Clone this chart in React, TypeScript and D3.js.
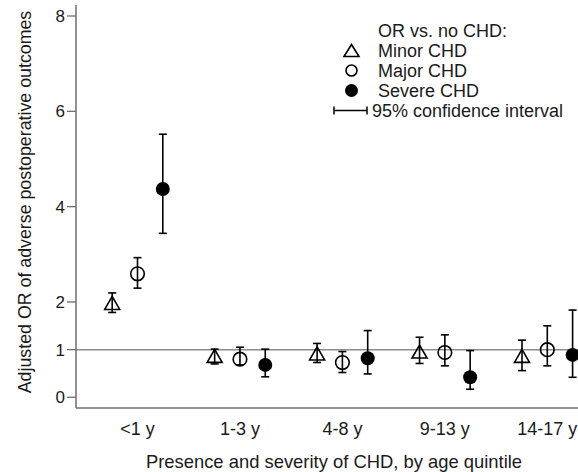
import React from 'react';
import * as d3 from 'd3';

const ageGroups = ['<1 y', '1-3 y', '4-8 y', '9-13 y', '14-17 y'];
const seriesNames = ['Minor CHD', 'Major CHD', 'Severe CHD'];

// OR, lower CI, upper CI per age group
const minorOR = [1.98, 0.87, 0.92, 0.96, 0.87];
const minorLo = [1.78, 0.7, 0.73, 0.71, 0.56];
const minorHi = [2.19, 1.01, 1.13, 1.26, 1.2];

const majorOR = [2.59, 0.8, 0.73, 0.94, 1.0];
const majorLo = [2.29, 0.68, 0.52, 0.66, 0.66];
const majorHi = [2.93, 1.05, 0.96, 1.31, 1.5];

const severeOR = [4.37, 0.68, 0.82, 0.42, 0.89];
const severeLo = [3.44, 0.43, 0.49, 0.17, 0.42];
const severeHi = [5.52, 1.01, 1.4, 0.98, 1.83];

const yTicks = [0, 1, 2, 4, 6, 8];

const W = 578;
const H = 472;
const FONT = '"Liberation Sans", Arial, sans-serif';

const App = () => {
  const x = d3.scalePoint<string>().domain(ageGroups).range([137.5, 547.3]);
  const offset = d3.scalePoint<string>().domain(seriesNames).range([-25.3, 25.3]);
  const y = d3.scaleLinear().domain([0, 8]).range([397.3, 16]);

  const left = 76;
  const bottom = 408;

  const series = [
    { name: seriesNames[0], or: minorOR, lo: minorLo, hi: minorHi, shape: 'triangle' },
    { name: seriesNames[1], or: majorOR, lo: majorLo, hi: majorHi, shape: 'circle' },
    { name: seriesNames[2], or: severeOR, lo: severeLo, hi: severeHi, shape: 'filled' },
  ];

  const marker = (shape: string, cx: number, cy: number, key: string, small = false) => {
    if (shape === 'triangle') {
      const w = 15;
      const h = small ? 12 : 13;
      const p = `M${cx},${cy - h / 2} L${cx + w / 2},${cy + h / 2} L${cx - w / 2},${cy + h / 2} Z`;
      return <path key={key} d={p} fill="none" stroke="#000" strokeWidth={1.6} />;
    }
    if (shape === 'circle') {
      return <circle key={key} cx={cx} cy={cy} r={small ? 5.5 : 6.8} fill="none" stroke="#000" strokeWidth={1.6} />;
    }
    return <circle key={key} cx={cx} cy={cy} r={small ? 6.5 : 7} fill="#000" />;
  };

  const cap = 4;

  return (
    <svg width={W} height={H} style={{ position: 'absolute', left: 0, top: 0, background: '#fff' }} fontFamily={FONT}>
      <rect width={W} height={H} fill="#fff" />

      {/* reference line at OR = 1 */}
      <line x1={left} x2={W} y1={y(1)} y2={y(1)} stroke="#8c8c8c" strokeWidth={1.5} />

      {/* axes */}
      <line x1={left} x2={left} y1={5} y2={bottom} stroke="#6e6e6e" strokeWidth={1.5} />
      <line x1={left} x2={W} y1={bottom} y2={bottom} stroke="#6e6e6e" strokeWidth={1.5} />

      {yTicks.map((t) => (
        <g key={t}>
          <line x1={left - 9} x2={left} y1={y(t)} y2={y(t)} stroke="#6e6e6e" strokeWidth={1.3} />
          <text x={left - 11} y={y(t)} dy="0.36em" textAnchor="end" fontSize={17} fill="#1a1a1a">
            {t}
          </text>
        </g>
      ))}

      {ageGroups.map((g) => (
        <text key={g} x={x(g)} y={435} textAnchor="middle" fontSize={18} fill="#1a1a1a">
          {g}
        </text>
      ))}

      <text x={334} y={468} textAnchor="middle" fontSize={18.4} fill="#1a1a1a">
        Presence and severity of CHD, by age quintile
      </text>
      <text transform="translate(31,202) rotate(-90)" textAnchor="middle" fontSize={17.8} fill="#1a1a1a">
        Adjusted OR of adverse postoperative outcomes
      </text>

      {/* error bars and markers */}
      {series.map((s) =>
        ageGroups.map((g, i) => {
          const cx = (x(g) as number) + (offset(s.name) as number);
          return (
            <g key={s.name + g}>
              <line x1={cx} x2={cx} y1={y(s.lo[i])} y2={y(s.hi[i])} stroke="#000" strokeWidth={1.6} />
              <line x1={cx - cap} x2={cx + cap} y1={y(s.lo[i])} y2={y(s.lo[i])} stroke="#000" strokeWidth={1.6} />
              <line x1={cx - cap} x2={cx + cap} y1={y(s.hi[i])} y2={y(s.hi[i])} stroke="#000" strokeWidth={1.6} />
              {marker(s.shape, cx, y(s.or[i]), 'm')}
            </g>
          );
        })
      )}

      {/* legend */}
      <g fontSize={18} fill="#1a1a1a">
        <text x={378} y={37}>OR vs. no CHD:</text>
        {series.map((s, i) => (
          <g key={s.name}>
            {marker(s.shape, 351.5, 50.5 + i * 20, 'l', true)}
            <text x={378} y={57 + i * 20}>{s.name}</text>
          </g>
        ))}
        <line x1={334} x2={367} y1={110.5} y2={110.5} stroke="#000" strokeWidth={1.5} />
        <line x1={334} x2={334} y1={106.5} y2={114.5} stroke="#000" strokeWidth={1.5} />
        <line x1={367} x2={367} y1={106.5} y2={114.5} stroke="#000" strokeWidth={1.5} />
        <text x={372} y={117}>95% confidence interval</text>
      </g>
    </svg>
  );
};

export default App;
